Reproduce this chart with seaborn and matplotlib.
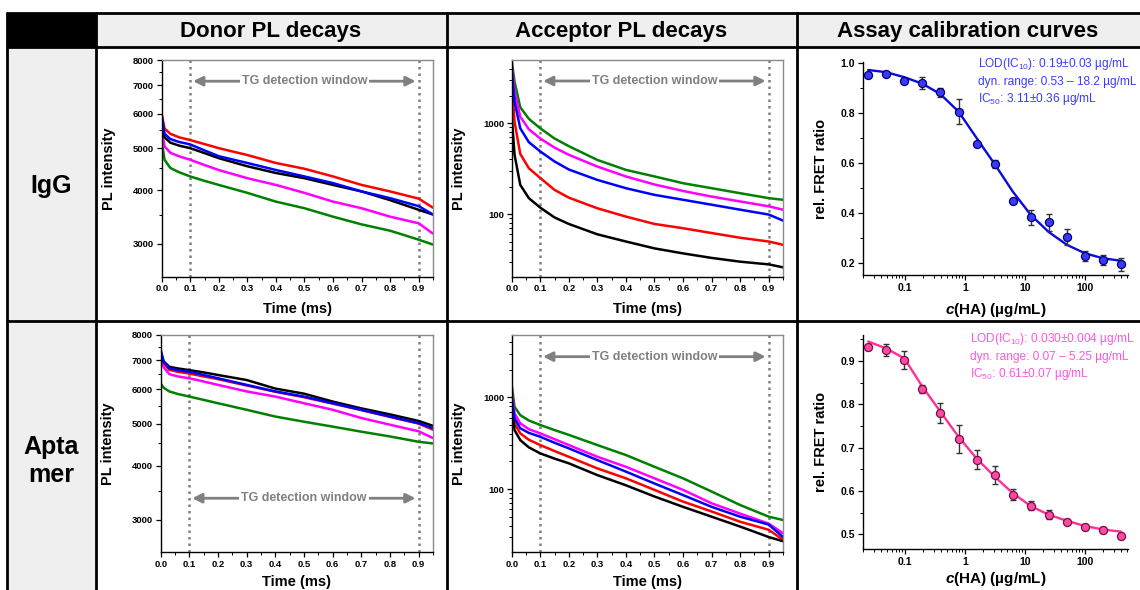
import numpy as np
import pandas as pd
import matplotlib
matplotlib.use("Agg")
import matplotlib.pyplot as plt
import seaborn as sns
from matplotlib.lines import Line2D
from matplotlib.patches import Rectangle
from matplotlib.ticker import FixedLocator, NullFormatter, LogLocator, FixedFormatter

# ---------------- data ----------------
time_ms = [0.0, 0.01, 0.03, 0.06, 0.1, 0.15, 0.2, 0.3, 0.4, 0.5, 0.6, 0.7, 0.8, 0.9, 0.95]
series_order = ["green", "magenta", "red", "black", "blue"]

donor_igg_red = [6000, 5550, 5400, 5300, 5220, 5110, 5000, 4820, 4620, 4480, 4300, 4110, 3970, 3820, 3640]
donor_igg_blue = [5950, 5400, 5250, 5170, 5100, 4940, 4790, 4620, 4450, 4300, 4150, 3970, 3830, 3670, 3510]
donor_igg_black = [5850, 5300, 5150, 5070, 5000, 4870, 4740, 4540, 4380, 4260, 4110, 3970, 3790, 3600, 3510]
donor_igg_magenta = [5500, 5050, 4880, 4790, 4700, 4570, 4450, 4260, 4110, 3940, 3760, 3630, 3470, 3350, 3170]
donor_igg_green = [5200, 4700, 4500, 4400, 4300, 4200, 4110, 3940, 3760, 3630, 3470, 3330, 3220, 3070, 2990]

acc_igg_green = [4900, 2870, 1500, 1120, 880, 680, 560, 395, 307, 260, 219, 193, 170, 150, 144]
acc_igg_magenta = [4500, 2230, 1180, 860, 680, 540, 450, 334, 260, 212, 180, 156, 138, 122, 112]
acc_igg_blue = [4000, 1730, 880, 620, 490, 380, 310, 238, 193, 163, 144, 127, 112, 99, 85]
acc_igg_red = [3000, 1040, 460, 320, 250, 185, 152, 116, 94, 78, 70, 62, 55, 50, 46]
acc_igg_black = [1200, 450, 210, 150, 118, 92, 78, 60, 50, 42, 37, 33, 30, 28, 26]

donor_apt_black = [7330, 6960, 6760, 6700, 6640, 6560, 6470, 6300, 6020, 5860, 5620, 5420, 5250, 5070, 4940]
donor_apt_blue = [7390, 6950, 6700, 6640, 6580, 6470, 6360, 6140, 5930, 5770, 5570, 5380, 5190, 5010, 4880]
donor_apt_red = [7250, 6900, 6650, 6580, 6520, 6420, 6330, 6120, 5920, 5750, 5560, 5370, 5180, 5000, 4840]
donor_apt_magenta = [7170, 6750, 6500, 6420, 6360, 6250, 6140, 5930, 5770, 5570, 5380, 5150, 4970, 4800, 4630]
donor_apt_green = [6190, 6050, 5930, 5850, 5770, 5670, 5570, 5380, 5190, 5050, 4920, 4790, 4670, 4540, 4500]

acc_apt_green = [1365, 790, 640, 560, 500, 440, 390, 302, 235, 175, 131, 94, 67, 50, 46]
acc_apt_magenta = [1150, 670, 520, 450, 405, 350, 302, 225, 175, 131, 98, 70, 54, 42, 33]
acc_apt_blue = [1017, 590, 460, 410, 372, 320, 278, 207, 155, 115, 86, 64, 50, 41, 30]
acc_apt_red = [900, 520, 405, 345, 302, 260, 225, 168, 131, 98, 73, 57, 44, 36, 28]
acc_apt_black = [790, 440, 342, 285, 245, 215, 191, 142, 110, 83, 64, 50, 39, 30, 27]

conc_ha = [0.0244, 0.0488, 0.0977, 0.195, 0.39, 0.78, 1.56, 3.125, 6.25, 12.5, 25, 50, 100, 200, 400]
igg_ratio = [0.953, 0.955, 0.930, 0.922, 0.884, 0.806, 0.675, 0.596, 0.449, 0.381, 0.361, 0.302, 0.228, 0.211, 0.193]
igg_err = [0.008, 0.008, 0.008, 0.024, 0.018, 0.05, 0.008, 0.017, 0.008, 0.03, 0.035, 0.033, 0.02, 0.019, 0.027]
igg_fit = [0.973, 0.964, 0.944, 0.918, 0.876, 0.806, 0.700, 0.595, 0.485, 0.391, 0.322, 0.271, 0.237, 0.217, 0.207]
apt_ratio = [0.932, 0.925, 0.902, 0.835, 0.779, 0.720, 0.672, 0.637, 0.591, 0.566, 0.545, 0.529, 0.517, 0.510, 0.496]
apt_err = [0.006, 0.014, 0.02, 0.01, 0.023, 0.032, 0.022, 0.021, 0.013, 0.01, 0.01, 0.006, 0.006, 0.006, 0.006]
apt_fit = [0.945, 0.929, 0.906, 0.841, 0.783, 0.725, 0.675, 0.633, 0.595, 0.565, 0.545, 0.531, 0.519, 0.511, 0.506]

col_headers = ["Donor PL decays", "Acceptor PL decays", "Assay calibration curves"]
row_labels = ["IgG", "Apta\nmer"]
igg_texts = ["LOD(IC$_{10}$): 0.19±0.03 µg/mL", "dyn. range: 0.53 – 18.2 µg/mL", "IC$_{50}$: 3.11±0.36 µg/mL"]
apt_texts = ["LOD(IC$_{10}$): 0.030±0.004 µg/mL", "dyn. range: 0.07 – 5.25 µg/mL", "IC$_{50}$: 0.61±0.07 µg/mL"]

# ---------------- style ----------------
sns.set_theme(style="ticks")
plt.rcParams["font.family"] = ["Liberation Sans", "DejaVu Sans"]
plt.rcParams["mathtext.fontset"] = "custom"
plt.rcParams["mathtext.rm"] = "Liberation Sans"
plt.rcParams["mathtext.it"] = "Liberation Sans:italic"
plt.rcParams["mathtext.bf"] = "Liberation Sans:bold"
plt.rcParams["mathtext.bfit"] = "Liberation Sans:italic:bold"
plt.rcParams["text.color"] = "black"
plt.rcParams["axes.labelcolor"] = "black"
plt.rcParams["xtick.color"] = "black"
plt.rcParams["ytick.color"] = "black"

W, H = 1140, 590
fig = plt.figure(figsize=(W / 100, H / 100), dpi=100)
fig.patch.set_facecolor("white")


def fx(x):
    return x / W


def fy(y):
    return 1 - y / H


def rect_px(l, t, r, b):
    return [fx(l), fy(b), fx(r) - fx(l), fy(t) - fy(b)]


# ---------------- table ----------------
gray_fill = "#efefef"
fig.add_artist(Rectangle((fx(96), fy(47)), fx(1140) - fx(96), fy(13) - fy(47), transform=fig.transFigure,
                         facecolor=gray_fill, edgecolor="none", zorder=0))
fig.add_artist(Rectangle((fx(7), fy(590)), fx(96) - fx(7), fy(47) - fy(590), transform=fig.transFigure,
                         facecolor=gray_fill, edgecolor="none", zorder=0))
fig.add_artist(Rectangle((fx(7), fy(47)), fx(96) - fx(7), fy(13) - fy(47), transform=fig.transFigure,
                         facecolor="black", edgecolor="none", zorder=0))
lw_tab = 2.0
for y in [13, 47, 321]:
    fig.add_artist(Line2D([fx(7), fx(1140)], [fy(y), fy(y)], transform=fig.transFigure, color="black", lw=lw_tab, zorder=5))
for x in [7, 96, 446.5, 797]:
    fig.add_artist(Line2D([fx(x), fx(x)], [fy(13), fy(590)], transform=fig.transFigure, color="black", lw=lw_tab, zorder=5))

for cx, txt in zip([271, 621, 968], col_headers):
    fig.text(fx(cx), fy(31), txt, ha="center", va="center", fontsize=16, fontweight="bold", color="black")
fig.text(fx(51), fy(186), row_labels[0], ha="center", va="center", fontsize=18, fontweight="bold", color="black")
fig.text(fx(51), fy(461), row_labels[1], ha="center", va="center", fontsize=18, fontweight="bold",
         linespacing=1.2, color="black")

palette = {"green": "#008000", "magenta": "#ff00ff", "red": "#ff0000", "black": "#000000", "blue": "#0000ff"}


def style_frame(ax, boxed=True):
    for s in ["left", "bottom"]:
        ax.spines[s].set_color("black")
        ax.spines[s].set_linewidth(1.0)
    if boxed:
        for s in ["top", "right"]:
            ax.spines[s].set_visible(True)
            ax.spines[s].set_color("#8a8a8a")
            ax.spines[s].set_linewidth(1.0)
    else:
        ax.spines["top"].set_visible(False)
        ax.spines["right"].set_visible(False)
    ax.tick_params(which="major", direction="out", length=3.5, width=0.9, colors="black", pad=2)
    ax.tick_params(which="minor", direction="out", length=2, width=0.7, colors="black")
    ax.set_facecolor("white")


def decay_panel(rect, curves, ylim, yticks, ylabels, yminor, arrow_y, xlab_y):
    ax = fig.add_axes(rect)
    rows = []
    for name in series_order:
        for t, v in zip(time_ms, curves[name]):
            rows.append({"t": t, "I": v, "s": name})
    df = pd.DataFrame(rows)
    ax.set_yscale("log")
    sns.lineplot(data=df, x="t", y="I", hue="s", hue_order=series_order, palette=palette,
                 estimator=None, sort=False, lw=1.8, legend=False, ax=ax)
    ax.set_xlim(0, 0.95)
    ax.set_ylim(*ylim)
    ax.yaxis.set_major_locator(FixedLocator(yticks))
    ax.yaxis.set_major_formatter(FixedFormatter(ylabels))
    ax.yaxis.set_minor_locator(FixedLocator(yminor))
    ax.yaxis.set_minor_formatter(NullFormatter())
    xt = [round(0.1 * i, 1) for i in range(10)]
    ax.set_xticks(xt)
    ax.set_xticklabels([f"{v:.1f}" for v in xt])
    ax.xaxis.set_minor_locator(FixedLocator([0.05 + 0.1 * i for i in range(10)]))
    for lab in ax.get_xticklabels() + ax.get_yticklabels():
        lab.set_fontsize(6.8)
        lab.set_fontweight("bold")
    for xv in [0.1, 0.9]:
        ax.axvline(xv, color="#808080", ls=(0, (1, 1.6)), lw=1.8, zorder=1)
    ax.annotate("", xy=(0.11, arrow_y), xytext=(0.889, arrow_y),
                arrowprops=dict(arrowstyle="<|-|>", color="#808080", lw=2, mutation_scale=14, shrinkA=0, shrinkB=0))
    ax.text(0.5, arrow_y, "TG detection window", ha="center", va="center", color="#808080",
            fontsize=9, fontweight="bold", bbox=dict(facecolor="white", edgecolor="none", pad=1.5))
    ax.set_xlabel("Time (ms)", fontsize=10.5, fontweight="bold")
    ax.set_ylabel("PL intensity", fontsize=10.5, fontweight="bold")
    ax.xaxis.set_label_coords(0.5, xlab_y)
    ax.yaxis.set_label_coords(-0.168, 0.5)
    style_frame(ax, boxed=True)
    return ax


donor_ticks = [3000, 4000, 5000, 6000, 7000, 8000]
donor_minor = [2500, 3500, 4500, 5500, 6500, 7500]
acc_ticks = [100, 1000]
acc_minor = [20, 30, 40, 50, 60, 70, 80, 90, 200, 300, 400, 500, 600, 700, 800, 900, 2000, 3000, 4000]

decay_panel(rect_px(161.7, 60, 433, 276.7),
            {"red": donor_igg_red, "blue": donor_igg_blue, "black": donor_igg_black,
             "magenta": donor_igg_magenta, "green": donor_igg_green},
            (2520, 8000), donor_ticks, [str(v) for v in donor_ticks], donor_minor, 7145, -0.118)
decay_panel(rect_px(511.7, 60, 783, 276.7),
            {"red": acc_igg_red, "blue": acc_igg_blue, "black": acc_igg_black,
             "magenta": acc_igg_magenta, "green": acc_igg_green},
            (20.5, 4970), acc_ticks, [str(v) for v in acc_ticks], acc_minor, 2920, -0.118)
decay_panel(rect_px(160.7, 335, 433, 552),
            {"red": donor_apt_red, "blue": donor_apt_blue, "black": donor_apt_black,
             "magenta": donor_apt_magenta, "green": donor_apt_green},
            (2530, 8000), donor_ticks, [str(v) for v in donor_ticks], donor_minor, 3365, -0.108)
decay_panel(rect_px(511.7, 335, 783, 552),
            {"red": acc_apt_red, "blue": acc_apt_blue, "black": acc_apt_black,
             "magenta": acc_apt_magenta, "green": acc_apt_green},
            (20.6, 4790), acc_ticks, [str(v) for v in acc_ticks], acc_minor, 2780, -0.108)


def cal_panel(rect, vals, errs, fit, line_color, face, edge, ylim, yticks, ylabels, yminor, texts, tcolor, tx, ty0, xlab_y):
    ax = fig.add_axes(rect)
    ax.set_xscale("log")
    dfit = pd.DataFrame({"c": conc_ha, "r": fit})
    sns.lineplot(data=dfit, x="c", y="r", color=line_color, lw=1.7, estimator=None, sort=False, ax=ax, zorder=2)
    ax.errorbar(conc_ha, vals, yerr=errs, fmt="none", ecolor="#333333", elinewidth=1.0, capsize=2.5, capthick=1.0, zorder=3)
    dpts = pd.DataFrame({"c": conc_ha, "r": vals})
    sns.scatterplot(data=dpts, x="c", y="r", color=face, edgecolor=edge, linewidth=0.9, s=34, ax=ax, zorder=4)
    ax.set_xlim(0.02, 520)
    ax.set_ylim(*ylim)
    ax.xaxis.set_major_locator(FixedLocator([0.1, 1, 10, 100]))
    ax.xaxis.set_major_formatter(FixedFormatter(["0.1", "1", "10", "100"]))
    ax.xaxis.set_minor_locator(LogLocator(base=10, subs=np.arange(2, 10), numticks=20))
    ax.xaxis.set_minor_formatter(NullFormatter())
    ax.yaxis.set_major_locator(FixedLocator(yticks))
    ax.yaxis.set_major_formatter(FixedFormatter(ylabels))
    ax.yaxis.set_minor_locator(FixedLocator(yminor))
    for lab in ax.get_xticklabels() + ax.get_yticklabels():
        lab.set_fontsize(7.5)
        lab.set_fontweight("bold")
    ax.set_xlabel(r"$\mathbfit{c}$(HA) (µg/mL)", fontsize=11, fontweight="bold")
    ax.set_ylabel("rel. FRET ratio", fontsize=10.5, fontweight="bold")
    ax.xaxis.set_label_coords(0.5, xlab_y)
    ax.yaxis.set_label_coords(-0.132, 0.5)
    style_frame(ax, boxed=False)
    for i, s in enumerate(texts):
        fig.text(fx(tx), fy(ty0 + 17.7 * i), s, ha="left", va="center", color=tcolor, fontsize=8.6)
    return ax


cal_panel(rect_px(863, 62, 1128, 275), igg_ratio, igg_err, igg_fit, "#0a0ae0", "#3a3aff", "#00006a",
          (0.15, 1.005), [0.2, 0.4, 0.6, 0.8, 1.0], ["0.2", "0.4", "0.6", "0.8", "1.0"],
          [0.3, 0.5, 0.7, 0.9], igg_texts, "#3b3bff", 978, 64, -0.12)
cal_panel(rect_px(863, 335, 1128, 549), apt_ratio, apt_err, apt_fit, "#ff2f9a", "#ff4aa8", "#7a1040",
          (0.466, 0.96), [0.5, 0.6, 0.7, 0.8, 0.9], ["0.5", "0.6", "0.7", "0.8", "0.9"],
          [0.55, 0.65, 0.75, 0.85, 0.95], apt_texts, "#ff55e0", 970, 339, -0.098)

fig.savefig("out.png", dpi=100, facecolor="white")
